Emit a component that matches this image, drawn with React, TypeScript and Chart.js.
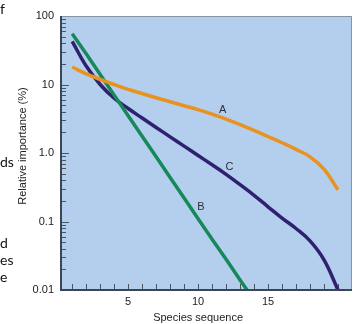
import React, { useEffect, useRef } from "react";
import { Chart, registerables } from "chart.js";

Chart.register(...registerables);

// ---- data ----
const speciesX = [1, 2, 3, 4, 5, 6, 7, 8, 9, 10, 11, 12, 13, 14, 15, 16, 17, 18, 19, 20];
const curveA = [18, 14.3, 11.9, 10, 8.5, 7.4, 6.4, 5.6, 4.9, 4.3, 3.7, 3.12, 2.6, 2.14, 1.74, 1.41, 1.13, 0.88, 0.58, 0.29];
const curveC = [42.7, 18.6, 10.0, 6.3, 4.46, 3.24, 2.36, 1.72, 1.26, 0.92, 0.673, 0.488, 0.345, 0.241, 0.164, 0.112, 0.079, 0.052, 0.0275, 0.01];
const speciesXB = [1, 2, 3, 4, 5, 6, 7, 8, 9, 10, 11, 12, 13, 13.5];
const curveB = [55, 28, 14, 7, 3.5, 1.75, 0.88, 0.44, 0.22, 0.11, 0.055, 0.028, 0.014, 0.01];

const xTickLabelValues = [5, 10, 15];
const xTickMarkValues = [1, 2, 3, 4, 5, 6, 7, 8, 9, 10, 11, 12, 13, 14, 15, 16, 17, 18, 19, 20];
const yMajorValues = [0.01, 0.1, 1, 10, 100];
const yMajorLabels = ["0.01", "0.1", "1.0", "10", "100"];
const yMinorMultipliers = [2, 3, 4, 5, 6, 7, 8, 9];

const curveLabels = ["A", "B", "C"];
const curveLabelX = [11.75, 10.2, 12.25];
const curveLabelY = [4.3, 0.163, 0.62];

const xTitle = "Species sequence";
const yTitle = "Relative importance (%)";

const FONT = "'Liberation Sans', Arial, Helvetica, sans-serif";
const PLOT_BG = "#b4cfee";

const decorPlugin = {
  id: "decor",
  beforeDatasetsDraw(chart: any) {
    const { ctx, chartArea: a, scales } = chart;
    const xs = scales.x;
    const ys = scales.y;
    ctx.save();
    ctx.fillStyle = PLOT_BG;
    ctx.fillRect(a.left, a.top, a.right - a.left, a.bottom - a.top);
    ctx.strokeStyle = "#4a5563";
    ctx.lineWidth = 1;
    ctx.beginPath();
    xTickMarkValues.forEach((v) => {
      const px = Math.round(xs.getPixelForValue(v)) + 0.5;
      ctx.moveTo(px, a.bottom);
      ctx.lineTo(px, a.bottom - 6);
    });
    for (let i = 0; i < yMajorValues.length; i++) {
      const v = yMajorValues[i];
      const py = Math.round(ys.getPixelForValue(v)) + 0.5;
      ctx.moveTo(a.left, py);
      ctx.lineTo(a.left + 8, py);
      if (i < yMajorValues.length - 1) {
        yMinorMultipliers.forEach((m) => {
          const q = Math.round(ys.getPixelForValue(v * m)) + 0.5;
          ctx.moveTo(a.left, q);
          ctx.lineTo(a.left + 5, q);
        });
      }
    }
    ctx.stroke();
    ctx.restore();
  },
  afterDatasetsDraw(chart: any) {
    const { ctx, chartArea: a, scales } = chart;
    const xs = scales.x;
    const ys = scales.y;
    ctx.save();
    ctx.strokeStyle = "#8793a0";
    ctx.lineWidth = 1;
    ctx.beginPath();
    ctx.moveTo(a.left, a.top + 0.5);
    ctx.lineTo(a.right - 0.5, a.top + 0.5);
    ctx.lineTo(a.right - 0.5, a.bottom);
    ctx.stroke();
    ctx.strokeStyle = "#3b4654";
    ctx.lineWidth = 2;
    ctx.beginPath();
    ctx.moveTo(a.left, a.top);
    ctx.lineTo(a.left, a.bottom);
    ctx.lineTo(a.right, a.bottom);
    ctx.stroke();
    ctx.fillStyle = "#2b2f3a";
    ctx.font = `11px ${FONT}`;
    ctx.textAlign = "center";
    ctx.textBaseline = "middle";
    curveLabels.forEach((t, i) => {
      ctx.fillText(t, xs.getPixelForValue(curveLabelX[i]), ys.getPixelForValue(curveLabelY[i]));
    });
    ctx.fillStyle = "#222";
    ctx.fillText(xTitle, xs.getPixelForValue(10), 318);
    ctx.translate(22.5, 146);
    ctx.rotate(-Math.PI / 2);
    ctx.fillText(yTitle, 0, 0);
    ctx.restore();
  },
};

export default function App() {
  const ref = useRef<HTMLCanvasElement | null>(null);
  useEffect(() => {
    document.body.style.margin = "0";
    const canvas = ref.current;
    if (!canvas) return;
    const toPts = (xs: number[], ys: number[]) => xs.map((x, i) => ({ x, y: ys[i] }));
    const chart = new Chart(canvas, {
      type: "line",
      data: {
        datasets: [
          {
            label: "A",
            data: toPts(speciesX, curveA),
            borderColor: "#e8921f",
            borderWidth: 3.5,
            pointRadius: 0,
            tension: 0.4,
            fill: false,
          },
          {
            label: "B",
            data: toPts(speciesXB, curveB),
            borderColor: "#17885a",
            borderWidth: 3.5,
            pointRadius: 0,
            tension: 0,
            fill: false,
          },
          {
            label: "C",
            data: toPts(speciesX, curveC),
            borderColor: "#2f2170",
            borderWidth: 3.5,
            pointRadius: 0,
            tension: 0.4,
            fill: false,
          },
        ],
      },
      options: {
        animation: false,
        responsive: false,
        devicePixelRatio: 1,
        layout: { padding: { top: 16, right: 1, left: 0, bottom: 0 } },
        plugins: { legend: { display: false }, tooltip: { enabled: false } },
        scales: {
          x: {
            type: "linear",
            min: 0.2,
            max: 21,
            grid: { display: false, drawTicks: false },
            border: { display: false },
            afterBuildTicks: (s: any) => {
              s.ticks = xTickLabelValues.map((v) => ({ value: v }));
            },
            afterFit: (s: any) => {
              s.height = 34;
            },
            ticks: {
              autoSkip: false,
              maxRotation: 0,
              padding: 5,
              color: "#222",
              font: { family: FONT, size: 11 },
              callback: (v: any) => String(v),
            },
          },
          y: {
            type: "logarithmic",
            min: 0.01,
            max: 100,
            grid: { display: false, drawTicks: false },
            border: { display: false },
            afterBuildTicks: (s: any) => {
              s.ticks = yMajorValues.map((v) => ({ value: v, major: true }));
            },
            afterFit: (s: any) => {
              s.width = 61;
            },
            ticks: {
              autoSkip: false,
              padding: 7,
              color: "#222",
              font: { family: FONT, size: 11 },
              callback: (v: any) => {
                const i = yMajorValues.findIndex((m) => Math.abs(m - Number(v)) / m < 1e-6);
                return i >= 0 ? yMajorLabels[i] : "";
              },
            },
          },
        },
      } as any,
      plugins: [decorPlugin],
    });
    return () => chart.destroy();
  }, []);

  const frag: React.CSSProperties = {
    position: "absolute",
    left: 0,
    fontFamily: "Lato, 'Open Sans', sans-serif",
    fontSize: 14,
    lineHeight: "17px",
    color: "#111",
    margin: 0,
  };

  return (
    <div style={{ position: "absolute", left: 0, top: 0, width: 353, height: 324, background: "#fff", overflow: "hidden" }}>
      <canvas ref={ref} width={353} height={324} style={{ position: "absolute", left: 0, top: 0 }} />
      <div style={{ ...frag, top: 0 }}>f</div>
      <div style={{ ...frag, top: 153 }}>ds</div>
      <div style={{ ...frag, top: 234 }}>d</div>
      <div style={{ ...frag, top: 251 }}>es</div>
      <div style={{ ...frag, top: 268 }}>e</div>
    </div>
  );
}
